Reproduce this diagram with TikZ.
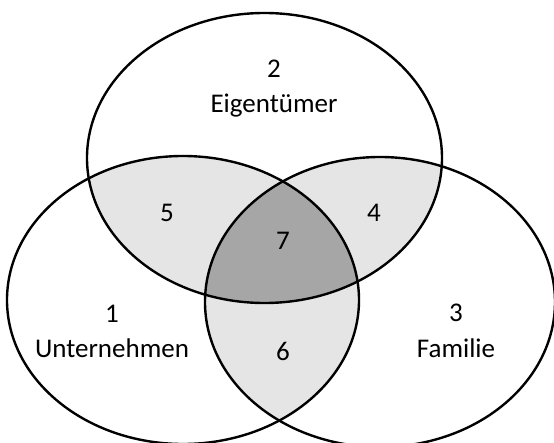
\documentclass[tikz,border=0pt]{standalone}
\usepackage{fontspec}
\setmainfont{Carlito}

\newcommand{\eigentuemerset}{(264.5, 284) ellipse [x radius=177.5, y radius=145]}
\newcommand{\unternehmenset}{(183, 142) ellipse [x radius=176, y radius=144]}
\newcommand{\familieset}{(380, 140) ellipse [x radius=175, y radius=145]}

\begin{document}
\begin{tikzpicture}[x=0.025cm, y=0.025cm,
    setline/.style={line width=1.7pt},
    venntext/.style={anchor=base, inner sep=0pt, font=\fontsize{19.2}{23}\selectfont}]
  \useasboundingbox (0, 0) rectangle (554, 442);
  % draw fills so lines sit on top of them
  \begin{scope}
    \clip \eigentuemerset;
    \fill [fill=black!10] \unternehmenset;
    \fill [fill=black!10] \familieset;
  \end{scope}
  \begin{scope}
    \clip \unternehmenset;
    \fill [fill=black!10] \familieset;
  \end{scope}
  % part shared by all three
  \begin{scope}
    \clip \eigentuemerset;
    \clip \unternehmenset;
    \fill [fill=black!35] \familieset;
  \end{scope}
  % outlines
  \draw [setline] \eigentuemerset;
  \draw [setline] \unternehmenset;
  \draw [setline] \familieset;
  % set labels
  \node (numTwo) [venntext] at (274, 364) {2};
  \node (eigentuemer) [venntext] at (274, 329) {Eigentümer};
  \node (numOne) [venntext] at (112, 119) {1};
  \node (unternehmen) [venntext] at (112, 84) {Unternehmen};
  \node (numThree) [venntext] at (456, 120) {3};
  \node (familie) [venntext] at (456, 84) {Familie};
  % overlap labels
  \node (numFive) [venntext] at (167, 220) {5};
  \node (numFour) [venntext] at (374, 220) {4};
  \node (numSeven) [venntext] at (283, 192) {7};
  \node (numSix) [venntext] at (283, 81) {6};
\end{tikzpicture}
\end{document}
